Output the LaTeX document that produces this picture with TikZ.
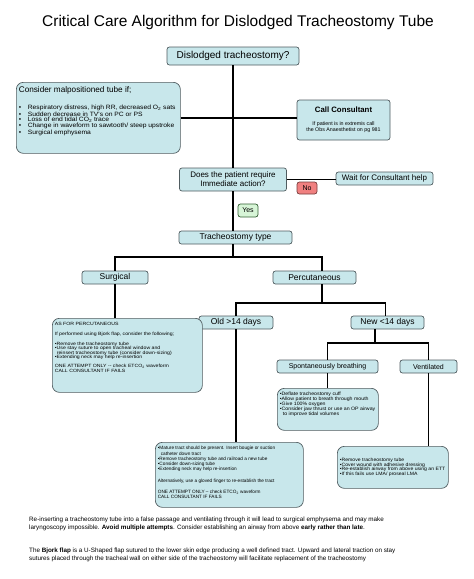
\documentclass[tikz,border=0pt]{standalone}
\usepackage{fontspec}
\setmainfont{Liberation Sans}
\newfontfamily\notefont[FakeStretch=1.09]{Liberation Sans}
\newfontfamily\widefont[FakeStretch=1.13]{Liberation Sans}
\definecolor{boxfill}{RGB}{200,231,235}
\definecolor{boxline}{RGB}{80,92,96}
\definecolor{nofill}{RGB}{240,128,128}
\definecolor{noline}{RGB}{120,60,60}
\definecolor{yesfill}{RGB}{215,245,215}
\definecolor{yesline}{RGB}{50,95,50}
\newcommand{\fs}[2]{\fontsize{#1}{#2}\selectfont}
\newcommand{\itemdot}{\makebox[9pt][l]{\textbullet}}

\begin{document}
\begin{tikzpicture}[x=1pt,y=-1pt,
	box/.style={rectangle,rounded corners=2.5pt,draw=boxline,fill=boxfill,line width=0.7pt,inner sep=0pt,align=center,font=\fs{8.5}{9.5}},
	note/.style={rectangle,rounded corners=7pt,draw=boxline,fill=boxfill,line width=0.7pt,anchor=north west,inner xsep=2.5pt,inner ysep=4pt},
	link/.style={line width=1.6pt}]
	\useasboundingbox (0,0) rectangle (474,579);
	\node (title) at (238,22) {\fs{15.5}{17}Critical Care Algorithm for Dislodged Tracheostomy Tube};
	\node (dis) at (233,56) [box,minimum width=132pt,minimum height=18pt,font=\fs{10}{11}] {Dislodged tracheostomy?};
	\node (malpos) at (16,82) [note] {\parbox[t][63pt][t]{159pt}{\raggedright
		\fs{8.2}{9}Consider malpositioned tube if;\\[10pt]
		\notefont\fs{6.2}{5.6}\itemdot Respiratory distress, high RR, decreased O\textsubscript{2} sats\\
		\itemdot Sudden decrease in TV's on PC or PS\\
		\itemdot Loss of end tidal CO\textsubscript{2} trace\\
		\itemdot Change in waveform to sawtooth/ steep upstroke\\
		\itemdot Surgical emphysema}};
	\node (call) at (343.5,120) [box,minimum width=93pt,minimum height=40pt,font=\fs{5.3}{6}] {{\bfseries\fs{7.8}{9}Call Consultant}\\[7pt]If patient is in extremis call\\the Obs Anaesthetist on pg 981};
	\node (ask) at (233,179.5) [box,minimum width=107pt,minimum height=23pt,font=\fs{8}{9}] {Does the patient require\\Immediate action?};
	\node (wait) at (384.5,178.5) [box,minimum width=97pt,minimum height=13pt,font=\fs{8}{9}] {Wait for Consultant help};
	\node (no) at (307,188) [box,fill=nofill,draw=noline,minimum width=20pt,minimum height=12pt,font=\fs{7}{8}] {No};
	\node (yes) at (248,210.5) [box,fill=yesfill,draw=yesline,minimum width=20pt,minimum height=13pt,font=\fs{7}{8}] {Yes};
	\node (tt) at (235.5,237.5) [box,minimum width=113pt,minimum height=13pt] {Tracheostomy type};
	\node (surg) at (115,277.5) [box,minimum width=66pt,minimum height=13pt] {Surgical};
	\node (perc) at (314.5,277.5) [box,minimum width=83pt,minimum height=13pt] {Percutaneous};
	\node (old) at (236,322.5) [box,minimum width=74pt,minimum height=13pt] {Old >14 days};
	\node (new) at (387.5,322.5) [box,minimum width=73pt,minimum height=13pt] {New <14 days};
	\node (spont) at (327.5,366.5) [box,minimum width=101pt,minimum height=13pt,font=\fs{7}{8}] {Spontaneously breathing};
	\node (vent) at (428.5,366.5) [box,minimum width=57pt,minimum height=13pt,font=\fs{7}{8}] {Ventilated};
	\node (surgnote) at (52,318) [note] {\parbox[t][66pt][t]{145pt}{\raggedright\widefont\fs{4.6}{4.4}
		AS FOR PERCUTANEOUS\\[5.6pt]
		If performed using Bjork flap, consider the following;\\[5.6pt]
		\textbullet Remove the tracheostomy tube\\
		\textbullet Use stay suture to open tracheal window and\\
		\hspace*{2pt}reinsert tracheostomy tube (consider down-sizing)\\
		\textbullet Extending neck may help re-insertion\\[4.6pt]
		ONE ATTEMPT ONLY -- check ETCO\textsubscript{2} waveform\\
		CALL CONSULTANT IF FAILS}};
	\node (oldnote) at (155,442) [note] {\parbox[t][57pt][t]{143pt}{\raggedright\fs{4.7}{5.3}
		\textbullet Mature tract should be present. Insert bougie or suction\\
		\hspace*{3pt}catheter down tract\\
		\textbullet Remove tracheostomy tube and railroad a new tube\\
		\textbullet Consider down-sizing tube\\
		\textbullet Extending neck may help re-insertion\\[6.5pt]
		Alternatively, use a gloved finger to re-establish the tract\\[5.5pt]
		ONE ATTEMPT ONLY -- check ETCO\textsubscript{2} waveform\\
		CALL CONSULTANT IF FAILS}};
	\node (spontnote) at (277,388) [note] {\parbox[t][34pt][t]{96pt}{\raggedright\notefont\fs{4.8}{5}
		\textbullet Deflate tracheostomy cuff\\
		\textbullet Allow patient to breath through mouth\\
		\textbullet Give 100\% oxygen\\
		\textbullet Consider jaw thrust or use an OP airway\\
		\hspace*{3pt}to improve tidal volumes}};
	\node (ventnote) at (337,446) [note] {\parbox[t][34pt][c]{106pt}{\raggedright\notefont\fs{4.7}{4.4}
		\textbullet Remove tracheostomy tube\\
		\textbullet Cover wound with adhesive dressing\\
		\textbullet Re-establish airway from above using an ETT\\
		\textbullet If this fails use LMA/ proseal LMA}};
	\node (foota) at (29,517) [anchor=north west,inner sep=0pt,align=left,font=\fs{6.3}{7.3}] {Re-inserting a tracheostomy tube into a false passage and ventilating through it will lead to surgical emphysema and may make\\laryngoscopy impossible. \textbf{Avoid multiple attempts}. Consider establishing an airway from above \textbf{early rather than late}.};
	\node (footb) at (29,548) [anchor=north west,inner sep=0pt,align=left,font=\fs{6.3}{7.3}] {The \textbf{Bjork flap} is a U-Shaped flap sutured to the lower skin edge producing a well defined tract. Upward and lateral traction on stay\\sutures placed through the tracheal wall on either side of the tracheostomy will facilitate replacement of the tracheostomy};
	% connectors
	\coordinate (ttfork) at (233,257);
	\coordinate (percfork) at (322,303);
	\coordinate (newfork) at (375,343);
	\draw [link] (dis.south) -- (ask.north);
	\draw [link] (malpos.east) -- (malpos.east -| call.west);
	\draw [link] (ask.east) -- (ask.east -| wait.west);
	\draw [link] (ask.south) -- (ask.south |- tt.north);
	\draw [link] (tt.south -| ttfork) -- (ttfork);
	\draw [link] (surg.north) |- (ttfork) -| (perc.north -| percfork);
	\draw [link] (perc.south -| percfork) -- (percfork);
	\draw [link] (old.north) |- (percfork) -| ([xshift=-2pt]new.north);
	\draw [link] (new.south -| newfork) -- (newfork);
	\draw [link] (spont.north) |- (newfork) -| (vent.north);
	\draw [link] (surg.south) -- (surg.south |- surgnote.north);
	\draw [link] (old.south) -- (old.south |- oldnote.north);
	\draw [link] (spont.south) -- (spont.south |- spontnote.north);
	\draw [link] (vent.south) -- (vent.south |- ventnote.north);
\end{tikzpicture}
\end{document}
